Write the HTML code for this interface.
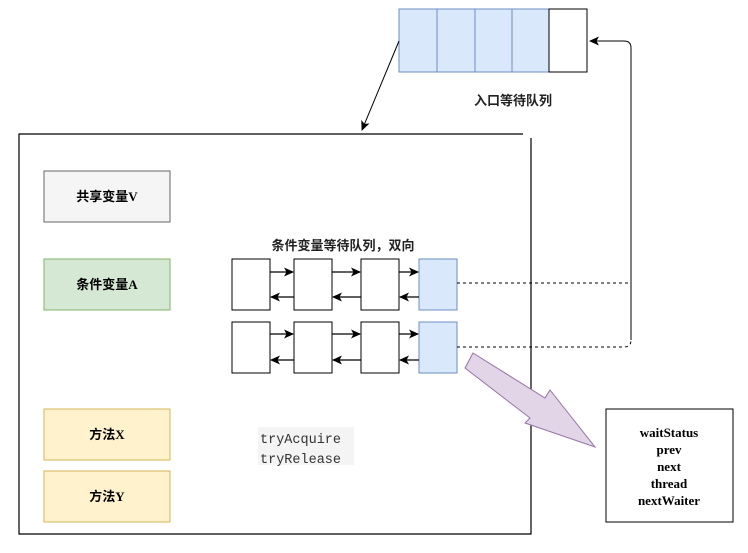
<!DOCTYPE html>
<html><head><meta charset="utf-8"><style>
body{margin:0;background:#fff;}
.t{font-family:"Liberation Sans","Noto Sans CJK SC",sans-serif;}
.s{font-family:"Liberation Serif","Noto Sans CJK SC",serif;}
</style></head><body>
<svg width="748" height="548" viewBox="0 0 748 548" xmlns="http://www.w3.org/2000/svg">
<defs>
<marker id="a" markerWidth="10" markerHeight="10" refX="9" refY="5" orient="auto" markerUnits="userSpaceOnUse"><path d="M0,0.5 L10,5 L0,9.5 L2.5,5 Z" fill="#000"/></marker>
</defs>
<path d="M523,134 H19 V534 H531 V138" fill="none" stroke="#000" stroke-width="1.2"/>
<g stroke="#6c8ebf" fill="#dae8fc">
<rect x="399" y="9" width="38" height="63"/><rect x="437" y="9" width="38" height="63"/>
<rect x="475" y="9" width="37" height="63"/><rect x="512" y="9" width="37" height="63"/>
</g>
<rect x="549" y="9" width="38" height="63" fill="#fff" stroke="#000"/>
<text x="513" y="105" class="t" font-size="13" font-weight="bold" text-anchor="middle" fill="#222">入口等待队列</text>
<line x1="399" y1="41" x2="362" y2="130" stroke="#000" marker-end="url(#a)"/>
<path d="M631,340 V48 Q631,41 624,41 H590" fill="none" stroke="#000" marker-end="url(#a)"/>
<rect x="44" y="171" width="126" height="51" fill="#f5f5f5" stroke="#666"/>
<text x="107" y="201" class="s" font-size="13" font-weight="bold" text-anchor="middle">共享变量V</text>
<rect x="44" y="259" width="126" height="51" fill="#d5e8d4" stroke="#82b366"/>
<text x="107" y="289" class="s" font-size="13" font-weight="bold" text-anchor="middle">条件变量A</text>
<rect x="44" y="409" width="126" height="51" fill="#fff2cc" stroke="#d6b656"/>
<text x="107" y="439" class="s" font-size="13" font-weight="bold" text-anchor="middle">方法X</text>
<rect x="44" y="471" width="126" height="51" fill="#fff2cc" stroke="#d6b656"/>
<text x="107" y="501" class="s" font-size="13" font-weight="bold" text-anchor="middle">方法Y</text>
<text x="343" y="250" class="t" font-size="13" font-weight="bold" text-anchor="middle" fill="#222">条件变量等待队列，双向</text>
<g stroke="#000" fill="#fff">
<rect x="232" y="259" width="38" height="51"/><rect x="294" y="259" width="38" height="51"/><rect x="361" y="259" width="38" height="51"/>
<rect x="232" y="322" width="38" height="51"/><rect x="294" y="322" width="38" height="51"/><rect x="361" y="322" width="38" height="51"/>
</g>
<rect x="419" y="259" width="38" height="51" fill="#dae8fc" stroke="#6c8ebf"/>
<rect x="419" y="322" width="38" height="51" fill="#dae8fc" stroke="#6c8ebf"/>
<g stroke="#000" stroke-width="1.2" marker-end="url(#a)">
<line x1="270" y1="272" x2="293" y2="272"/><line x1="332" y1="272" x2="360" y2="272"/><line x1="399" y1="272" x2="418" y2="272"/>
<line x1="294" y1="297" x2="271" y2="297"/><line x1="361" y1="297" x2="333" y2="297"/><line x1="419" y1="297" x2="400" y2="297"/>
<line x1="270" y1="334" x2="293" y2="334"/><line x1="332" y1="334" x2="360" y2="334"/><line x1="399" y1="334" x2="418" y2="334"/>
<line x1="294" y1="360" x2="271" y2="360"/><line x1="361" y1="360" x2="333" y2="360"/><line x1="419" y1="360" x2="400" y2="360"/>
</g>
<path d="M457,283 H631" fill="none" stroke="#000" stroke-dasharray="3,3"/>
<path d="M457,347 H624 Q631,347 631,340" fill="none" stroke="#000" stroke-dasharray="3,3"/>
<polygon points="473,353 545,398 550,390 595,447 525,423 530,418 465,368" fill="#e1d5e7" stroke="#9673a6"/>
<rect x="258" y="427" width="96" height="38" fill="#f4f4f4"/>
<text x="260" y="443" font-family="Liberation Mono,monospace" font-size="13.5" fill="#333">tryAcquire</text>
<text x="260" y="463" font-family="Liberation Mono,monospace" font-size="13.5" fill="#333">tryRelease</text>
<rect x="606" y="409" width="127" height="113" fill="#fff" stroke="#000"/>
<g font-family="Liberation Serif,serif" font-size="13" font-weight="bold" text-anchor="middle">
<text x="669" y="437">waitStatus</text><text x="669" y="454">prev</text><text x="669" y="471">next</text><text x="669" y="488">thread</text><text x="669" y="505">nextWaiter</text>
</g>
</svg>
</body></html>
